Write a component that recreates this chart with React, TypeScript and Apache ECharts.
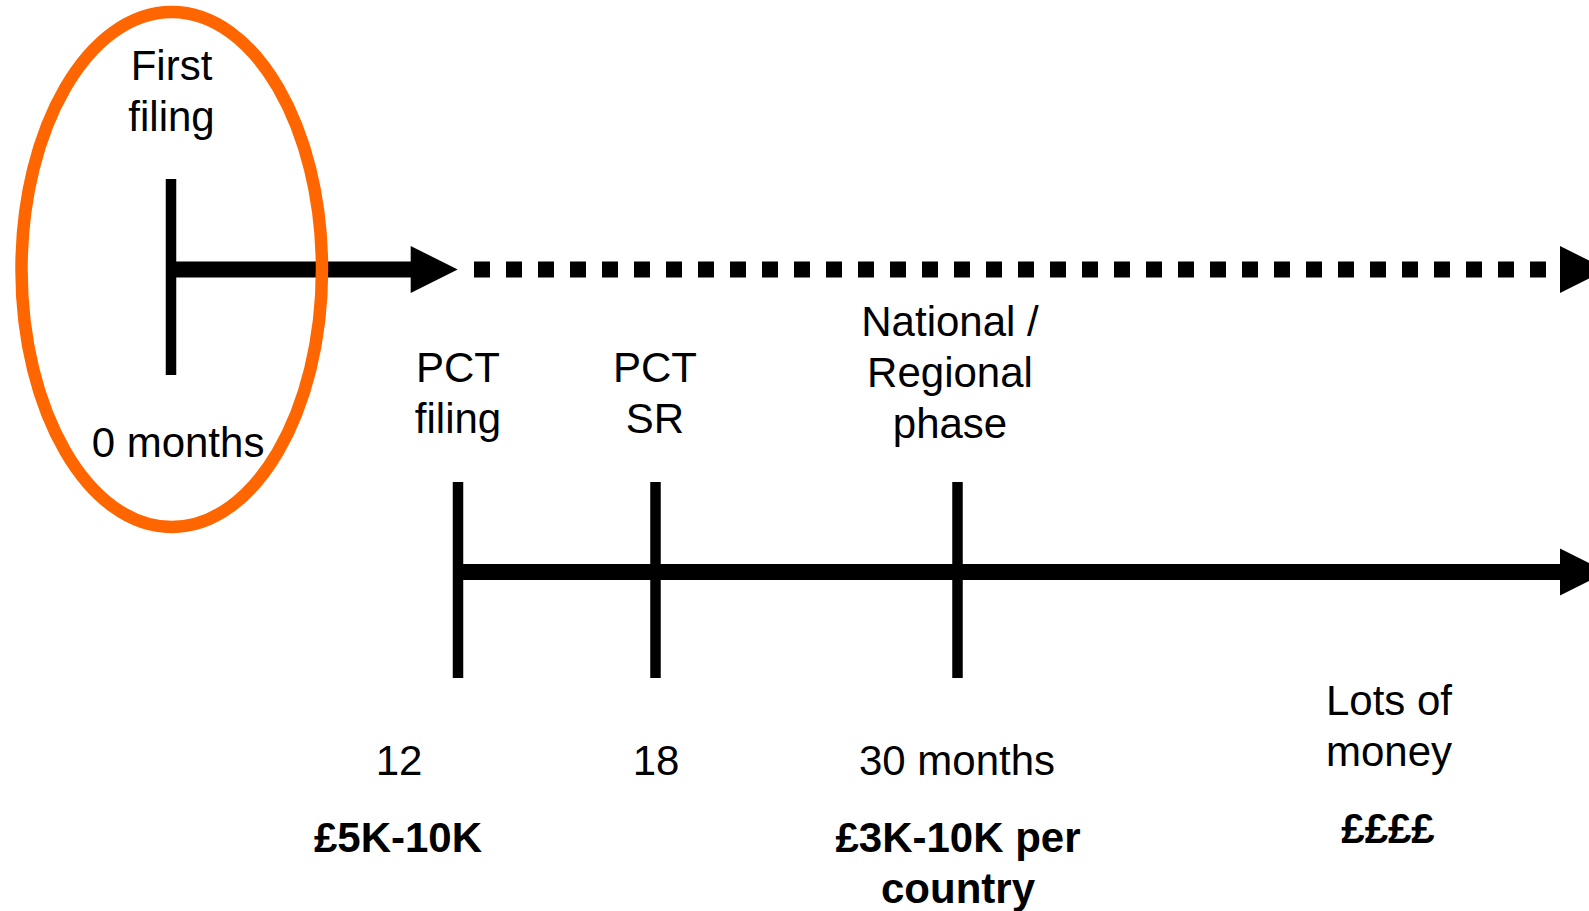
import React, { useEffect, useRef } from 'react';
import * as echarts from 'echarts';

// ---------- data ----------
const firstFilingName = ['First\nfiling'];
const firstFilingMonth = ['0 months'];
const milestoneNames = ['PCT\nfiling', 'PCT\nSR', 'National /\nRegional\nphase'];
const milestoneMonths = ['12', '18', '30 months'];
const milestoneCosts = ['£5K-10K', '', '£3K-10K per\ncountry'];
const laterNotes = ['Lots of\nmoney'];
const laterCosts = ['££££'];

// ---------- layout ----------
const W = 1589;
const H = 911;
const FONT = '"Liberation Sans", Arial, Helvetica, sans-serif';
const FS = 42;
const LH = 51;
const TOP_Y = 269.5;
const BOTTOM_Y = 572;
const LINE_W = 16;
const TICK_W = 10.5;
const FIRST_X = 171;
const FIRST_TICK_Y = [179, 375];
const TICK_X = [458, 655.5, 957.5];
const TICK_Y = [482, 678];
const NAME_X = [458, 655, 950];
const NAME_TOP = [342, 342, 296];
const MONTH_X = [399, 656, 957];
const MONTH_TOP = 735;
const COST_X = [398, 655, 958];
const COST_TOP = 812;
const HEAD_LEN = 47;
const HEAD_HALF = 23.5;
const FIRST_HEAD_BASE = 410.7;
const DOT_START = 474;
const DOT_END = 1546;
const END_HEAD_BASE = 1560;
const ELLIPSE = { cx: 171.75, cy: 269.5, rx: 150.25, ry: 257.5 };

function textEl(x: number, top: number, text: string, bold: boolean) {
  return {
    type: 'text',
    x,
    y: top,
    style: {
      text,
      fill: '#000',
      font: `${bold ? 'bold ' : ''}${FS}px ${FONT}`,
      align: 'center',
      verticalAlign: 'top',
      lineHeight: LH,
    },
  };
}

function head(api: any, baseX: number, y: number) {
  const a = api.coord([baseX, y - HEAD_HALF]);
  const b = api.coord([baseX + HEAD_LEN, y]);
  const c = api.coord([baseX, y + HEAD_HALF]);
  return { type: 'polygon', shape: { points: [a, b, c] }, style: { fill: '#000' } };
}

function hline(api: any, x1: number, x2: number, y: number, dash?: number[]) {
  const p1 = api.coord([x1, y]);
  const p2 = api.coord([x2, y]);
  return {
    type: 'line',
    shape: { x1: p1[0], y1: p1[1], x2: p2[0], y2: p2[1] },
    style: { stroke: '#000', lineWidth: LINE_W, lineCap: 'butt', lineDash: dash || null },
  };
}

function vtick(api: any, x: number, y1: number, y2: number) {
  const p1 = api.coord([x, y1]);
  const p2 = api.coord([x, y2]);
  return {
    type: 'line',
    shape: { x1: p1[0], y1: p1[1], x2: p2[0], y2: p2[1] },
    style: { stroke: '#000', lineWidth: TICK_W, lineCap: 'butt' },
  };
}

export default function App() {
  const ref = useRef<HTMLDivElement>(null);

  useEffect(() => {
    if (!ref.current) return;
    const chart = echarts.init(ref.current, null, { renderer: 'svg' });

    const option: any = {
      animation: false,
      backgroundColor: '#ffffff',
      grid: { left: 0, right: 0, top: 0, bottom: 0 },
      xAxis: { type: 'value', min: 0, max: W, show: false },
      yAxis: { type: 'value', min: 0, max: H, inverse: true, show: false },
      series: [
        {
          name: 'First filing',
          type: 'custom',
          coordinateSystem: 'cartesian2d',
          z: 2,
          data: firstFilingName.map((_, i) => [i, 0]),
          renderItem: (params: any, api: any) => {
            const i = params.dataIndex;
            const top = api.coord([FIRST_X, 0]);
            return {
              type: 'group',
              children: [
                hline(api, FIRST_X, FIRST_HEAD_BASE + 1, TOP_Y),
                head(api, FIRST_HEAD_BASE, TOP_Y),
                hline(api, DOT_START, DOT_END, TOP_Y, [16, 16]),
                head(api, END_HEAD_BASE, TOP_Y),
                vtick(api, FIRST_X, FIRST_TICK_Y[0], FIRST_TICK_Y[1]),
                textEl(top[0] + 0.5, 40, firstFilingName[i], false),
                textEl(178, 417, firstFilingMonth[i], false),
              ],
            };
          },
        },
        {
          name: 'PCT route',
          type: 'custom',
          coordinateSystem: 'cartesian2d',
          z: 2,
          data: [[0, 0]],
          renderItem: (params: any, api: any) => ({
            type: 'group',
            children: [
              hline(api, TICK_X[0], END_HEAD_BASE + 1, BOTTOM_Y),
              head(api, END_HEAD_BASE, BOTTOM_Y),
            ],
          }),
        },
        {
          name: 'Milestones',
          type: 'custom',
          coordinateSystem: 'cartesian2d',
          z: 3,
          data: milestoneNames.map((_, i) => [i, 0]),
          renderItem: (params: any, api: any) => {
            const i = params.dataIndex;
            const children: any[] = [
              vtick(api, TICK_X[i], TICK_Y[0], TICK_Y[1]),
              textEl(NAME_X[i], NAME_TOP[i], milestoneNames[i], false),
              textEl(MONTH_X[i], MONTH_TOP, milestoneMonths[i], false),
            ];
            if (milestoneCosts[i]) children.push(textEl(COST_X[i], COST_TOP, milestoneCosts[i], true));
            return { type: 'group', children };
          },
        },
        {
          name: 'Later',
          type: 'custom',
          coordinateSystem: 'cartesian2d',
          z: 3,
          data: laterNotes.map((_, i) => [i, 0]),
          renderItem: (params: any, api: any) => {
            const i = params.dataIndex;
            return {
              type: 'group',
              children: [
                textEl(1389, 675, laterNotes[i], false),
                textEl(1388, 803, laterCosts[i], true),
              ],
            };
          },
        },
        {
          name: 'Highlight',
          type: 'custom',
          coordinateSystem: 'cartesian2d',
          z: 5,
          data: [[0, 0]],
          renderItem: (params: any, api: any) => {
            const c = api.coord([ELLIPSE.cx, ELLIPSE.cy]);
            return {
              type: 'ellipse',
              shape: { cx: c[0], cy: c[1], rx: ELLIPSE.rx, ry: ELLIPSE.ry },
              style: { fill: 'none', stroke: '#FF6600', lineWidth: 12.5 },
            };
          },
        },
      ],
    };

    chart.setOption(option);
    return () => chart.dispose();
  }, []);

  return (
    <div
      ref={ref}
      style={{ position: 'fixed', left: 0, top: 0, width: W, height: H, background: '#fff' }}
    />
  );
}
